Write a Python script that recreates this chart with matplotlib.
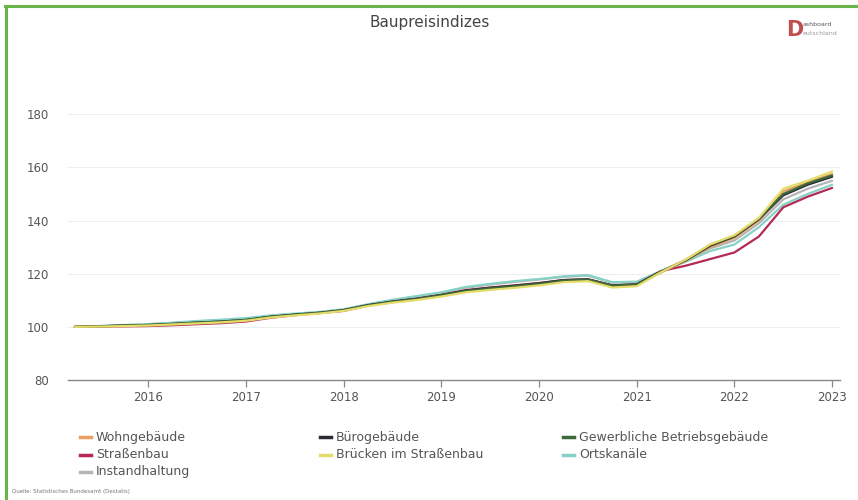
import matplotlib
matplotlib.use("Agg")
import matplotlib.pyplot as plt
from matplotlib.lines import Line2D
import numpy as np

# Quarterly time points (decimal years)
quarters = [2015.25, 2015.5, 2015.75, 2016.0, 2016.25, 2016.5, 2016.75, 2017.0,
            2017.25, 2017.5, 2017.75, 2018.0, 2018.25, 2018.5, 2018.75, 2019.0,
            2019.25, 2019.5, 2019.75, 2020.0, 2020.25, 2020.5, 2020.75, 2021.0,
            2021.25, 2021.5, 2021.75, 2022.0, 2022.25, 2022.5, 2022.75, 2023.0]

wohngebaeude = [100.0, 100.2, 100.4, 100.6, 101.0, 101.5, 101.9, 102.5,
                103.7, 104.5, 105.2, 106.2, 108.0, 109.3, 110.3, 111.7,
                113.3, 114.3, 115.1, 116.0, 117.2, 117.6, 115.3, 115.8,
                120.5, 124.8, 130.0, 133.5, 140.0, 151.0, 154.5, 157.5]
buerogebaeude = [100.0, 100.2, 100.5, 100.7, 101.1, 101.6, 102.0, 102.6,
                 103.8, 104.6, 105.3, 106.3, 108.2, 109.5, 110.6, 112.0,
                 113.7, 114.7, 115.5, 116.4, 117.6, 117.9, 115.6, 116.0,
                 120.8, 125.0, 130.5, 134.0, 140.5, 149.5, 153.5, 156.5]
gewerbliche = [100.0, 100.2, 100.5, 100.7, 101.1, 101.6, 102.0, 102.6,
               103.8, 104.6, 105.3, 106.3, 108.1, 109.4, 110.5, 111.9,
               113.5, 114.5, 115.3, 116.2, 117.4, 117.8, 115.5, 115.9,
               120.8, 125.2, 130.8, 134.2, 140.8, 150.0, 154.0, 157.0]
strassenbau = [100.0, 100.1, 100.2, 100.3, 100.6, 101.0, 101.4, 102.0,
               103.4, 104.4, 105.2, 106.0, 108.0, 109.5, 110.6, 112.0,
               113.8, 114.8, 115.6, 116.5, 117.6, 117.9, 115.6, 116.0,
               121.0, 123.0, 125.5, 128.0, 134.0, 145.0, 149.0, 152.3]
bruecken = [100.0, 100.1, 100.3, 100.5, 100.9, 101.3, 101.7, 102.3,
            103.5, 104.3, 105.0, 106.0, 107.8, 109.1, 110.1, 111.4,
            113.0, 113.9, 114.7, 115.6, 116.8, 117.2, 114.8, 115.3,
            120.6, 125.3, 131.0, 134.5, 141.0, 152.0, 155.0, 158.5]
ortskanaele = [100.0, 100.3, 100.7, 101.0, 101.6, 102.2, 102.7, 103.3,
               104.3, 105.0, 105.6, 106.6, 108.5, 110.2, 111.6, 113.0,
               115.0, 116.2, 117.2, 118.0, 119.0, 119.5, 116.8, 117.0,
               121.0, 124.5, 128.5, 131.0, 137.5, 146.0, 150.0, 153.5]
instandhaltung = [100.0, 100.3, 100.6, 100.9, 101.4, 102.0, 102.5, 103.1,
                  104.1, 104.8, 105.5, 106.5, 108.4, 110.0, 111.4, 112.8,
                  114.7, 115.9, 116.9, 117.8, 118.8, 119.3, 116.6, 116.8,
                  121.0, 125.0, 129.5, 132.5, 139.0, 148.0, 152.0, 155.0]

labels = ["Wohngebäude", "Bürogebäude", "Gewerbliche Betriebsgebäude",
          "Straßenbau", "Brücken im Straßenbau", "Ortskanäle", "Instandhaltung"]
colors = ["#E9A064", "#2B2B38", "#3E6A3A", "#B52A55", "#E6DC6A", "#86D2C6", "#B5B5B5"]
series = [wohngebaeude, buerogebaeude, gewerbliche, strassenbau, bruecken,
          ortskanaele, instandhaltung]

year_ticks = [2016, 2017, 2018, 2019, 2020, 2021, 2022, 2023]
y_ticks = [80, 100, 120, 140, 160, 180]

W, H = 858, 500
fig = plt.figure(figsize=(W / 100, H / 100), dpi=100)
fig.patch.set_facecolor("white")

def fx(px):
    return px / W

def fy(py):
    return 1 - py / H

ax = fig.add_axes([fx(68), fy(380), fx(840) - fx(68), fy(101) - fy(380)])
ax.set_facecolor("white")

draw_order = [6, 5, 3, 0, 1, 2, 4]
for i in draw_order:
    ax.plot(quarters, series[i], color=colors[i], lw=1.6, solid_capstyle="round",
            zorder=3)

ax.set_xlim(2015.18, 2023.08)
ax.set_ylim(80, 185)
ax.set_yticks(y_ticks)
ax.set_xticks(year_ticks)
ax.set_xticklabels([str(y) for y in year_ticks])
ax.tick_params(axis="y", length=0, labelsize=8.5, labelcolor="#555555", pad=14)
ax.tick_params(axis="x", length=5, width=0.9, color="#888888", labelsize=8.5,
               labelcolor="#555555", pad=3)
for s in ["top", "right", "left"]:
    ax.spines[s].set_visible(False)
ax.spines["bottom"].set_color("#888888")
ax.spines["bottom"].set_linewidth(1.0)
ax.grid(axis="y", color="#EEEEEE", lw=0.8, zorder=0)
ax.set_axisbelow(True)

# Title
fig.text(fx(430), fy(22), "Baupreisindizes", ha="center", va="center",
         fontsize=11, color="#444444")

# Logo approximation
fig.text(fx(795), fy(30), "D", ha="center", va="center", fontsize=15,
         fontweight="bold", color="#C0504D")
fig.text(fx(803), fy(25), "ashboard", ha="left", va="center", fontsize=4.5,
         color="#555555")
fig.text(fx(803), fy(33), "eutschland", ha="left", va="center", fontsize=4.5,
         color="#999999")

# Green frame
fig.add_artist(Line2D([fx(5), 1.0], [fy(6), fy(6)], color="#6AB44C", lw=2.2))
fig.add_artist(Line2D([fx(6), fx(6)], [fy(6), 0.0], color="#6AB44C", lw=2.2))

# Legend (manual, row-wise like reference)
leg_pos = [(80, 437), (320, 437), (563, 437),
           (80, 455), (320, 455), (563, 455),
           (80, 472)]
for i, (px, py) in enumerate(leg_pos):
    fig.add_artist(Line2D([fx(px), fx(px + 11)], [fy(py), fy(py)],
                          color=colors[i], lw=2.5))
    fig.text(fx(px + 16), fy(py), labels[i], ha="left", va="center",
             fontsize=9, color="#555555")

# Source
fig.text(fx(12), fy(492), "Quelle: Statistisches Bundesamt (Destatis)",
         ha="left", va="center", fontsize=4, color="#777777")

fig.savefig("out.png", dpi=100, facecolor="white")
